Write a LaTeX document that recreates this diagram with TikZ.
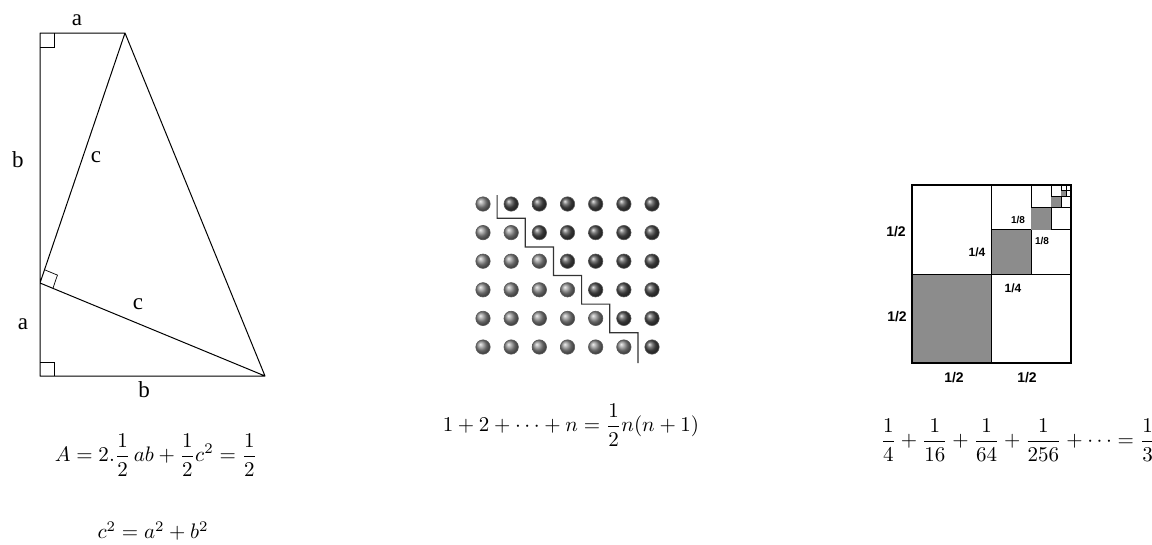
\documentclass[tikz,border=0pt]{standalone}
\usepackage{fontspec}
\setmainfont{Liberation Serif}
\newfontfamily\labfont{Liberation Sans}
\usetikzlibrary{calc}

\begin{document}
\begin{tikzpicture}[x=1pt,y=-1pt,
    lato/.style={font=\fontsize{23}{25}\selectfont},
    frazione/.style={font=\labfont\bfseries\fontsize{#1}{#1}\selectfont},
    formula/.style={scale=2.1,transform shape}]
    \useasboundingbox (0,0) rectangle (1152,544);
    %vertici del triangolo
    \coordinate (O) at (40,33);
    \coordinate (T) at (125,33);
    \coordinate (M) at (40,283);
    \coordinate (B) at (40,376);
    \coordinate (R) at (265,376);
    %disegno lati
    \draw[line width=1pt,line join=round] (T) -- (O) -- (B) -- (R) -- (T) -- (M) -- (R);
    %angoli retti
    \draw[line width=0.7pt] ($(O)+(0,14)$) -| ($(O)+(14,0)$);
    \draw[line width=0.7pt] ($(B)+(0,-14)$) -| ($(B)+(14,0)$);
    \coordinate (m1) at ($(M)!14pt!(T)$);
    \coordinate (m2) at ($(M)!14pt!(R)$);
    \draw[line width=0.7pt] (m1) -- ($(m1)+(m2)-(M)$) -- (m2);
    %etichette dei lati
    \node[lato] (la1) at (77,20) {a};
    \node[lato] (lb1) at (18,160) {b};
    \node[lato] (lc1) at (96,157) {c};
    \node[lato] (lc2) at (138,304) {c};
    \node[lato] (la2) at (23,324) {a};
    \node[lato] (lb2) at (144,390) {b};
    %formule del triangolo
    \node[formula] (areaA) at (156,455) {$\displaystyle A=2.\frac{1}{2}\,ab+\frac{1}{2}c^2=\frac{1}{2}$};
    \node[formula,anchor=south west,inner sep=1pt] (pitagora) at (95,543) {$c^2=a^2+b^2$};
    %palline
    \foreach \r in {0,...,5}
      \foreach \c in {0,...,6}{
        \ifnum\c>\r
          \shade[ball color=black!70] ({483+28.17*\c},{204+28.6*\r}) circle[radius=7.2pt];
        \else
          \shade[ball color=gray!90] ({483+28.17*\c},{204+28.6*\r}) circle[radius=7.2pt];
        \fi
        \draw[black!65,line width=0.6pt] ({483+28.17*\c},{204+28.6*\r}) circle[radius=7.2pt];
      }
    %scala
    \draw[line width=1.2pt,black!80] (497.1,195)
      \foreach \k in {0,...,4}{ -- ({497.1+28.17*\k},{218.3+28.6*\k}) -- ({525.3+28.17*\k},{218.3+28.6*\k}) }
      -- (638,363);
    \node[formula] (somma) at (571,425) {$\displaystyle 1+2+\cdots+n=\frac{1}{2}n(n+1)$};
    %quadrato
    \foreach \k in {0,...,4}{
      \pgfmathsetmacro\xa{1071-159/2^\k}
      \pgfmathsetmacro\ya{185+178/2^\k}
      \pgfmathsetmacro\xm{(\xa+1071)/2}
      \pgfmathsetmacro\ym{(\ya+185)/2}
      \fill[black!45] (\xa,\ym) rectangle (\xm,\ya);
      \draw[line width=1pt] (\xm,185) -- (\xm,\ya) (\xa,\ym) -- (1071,\ym);
    }
    \draw[line width=0.6pt] (1066,185) -- (1066,196) (1061,190.6) -- (1071,190.6);
    \draw[line width=1.4pt] (912,185) rectangle (1071,363);
    %etichette del quadrato
    \node[frazione=14] (q1) at (896,232) {1/2};
    \node[frazione=14] (q2) at (897,317) {1/2};
    \node[frazione=14] (q3) at (954,378) {1/2};
    \node[frazione=14] (q4) at (1027,378) {1/2};
    \node[frazione=12] (q5) at (977,252) {1/4};
    \node[frazione=12] (q6) at (1013,288) {1/4};
    \node[frazione=10] (q7) at (1018,220) {1/8};
    \node[frazione=10] (q8) at (1042,241) {1/8};
    \node[formula] (serie) at (1018,440) {$\displaystyle \frac{1}{4}+\frac{1}{16}+\frac{1}{64}+\frac{1}{256}+\cdots=\frac{1}{3}$};
\end{tikzpicture}
\end{document}
